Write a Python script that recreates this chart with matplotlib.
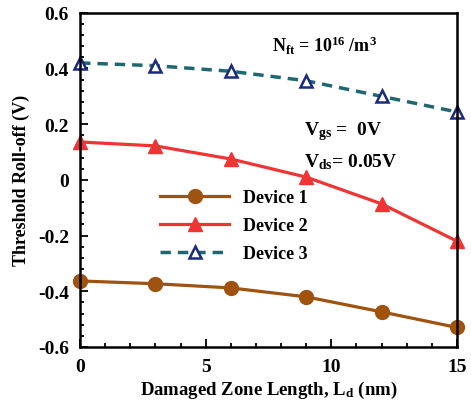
import numpy as np
import matplotlib
matplotlib.use('Agg')
import matplotlib.pyplot as plt
from matplotlib.ticker import MultipleLocator

plt.rcParams['font.family'] = 'Liberation Serif'
plt.rcParams['font.weight'] = 'bold'
plt.rcParams['mathtext.fontset'] = 'custom'
plt.rcParams['mathtext.rm'] = 'Liberation Serif:bold'
plt.rcParams['mathtext.it'] = 'Liberation Serif:bold'
plt.rcParams['mathtext.bf'] = 'Liberation Serif:bold'

# Damaged zone length (nm)
ld = [0, 3, 6, 9, 12, 15]

# Threshold roll-off (V)
device1 = [-0.363, -0.373, -0.388, -0.42, -0.474, -0.53]
device2 = [0.136, 0.122, 0.075, 0.01, -0.086, -0.22]
device3 = [0.42, 0.41, 0.39, 0.356, 0.30, 0.244]

labels = ['Device 1', 'Device 2', 'Device 3']

fig = plt.figure(figsize=(4.71, 4.06), dpi=100)
ax = fig.add_axes([0.170, 0.143, 0.800, 0.823])

ax.plot(ld, device1, color='#A0520F', lw=2.3, marker='o', ms=10,
        label=labels[0], clip_on=False)
ax.plot(ld, device2, color='#F03434', lw=2.3, marker='^', ms=10,
        label=labels[1], clip_on=False)
ax.plot(ld, device3, color='#1F6870', lw=2.5, ls=(0, (3, 2)), marker='^',
        ms=9, mfc='white', mec='#1A2A80', mew=1.8, label=labels[2],
        clip_on=False)

ax.set_xlim(0, 15)
ax.set_ylim(-0.6, 0.6)
ax.xaxis.set_major_locator(MultipleLocator(5))
ax.xaxis.set_minor_locator(MultipleLocator(1))
ax.yaxis.set_minor_locator(MultipleLocator(0.04))
ax.set_yticks([-0.6, -0.4, -0.2, 0, 0.2, 0.4, 0.6])
ax.set_yticklabels(['-0.6', '-0.4', '-0.2', '0', '0.2', '0.4', '0.6'])
ax.tick_params(which='both', direction='in', labelsize=14, width=1.3)
ax.tick_params(which='major', length=6, pad=8)
ax.tick_params(which='minor', length=3)
for s in ax.spines.values():
    s.set_linewidth(1.8)

ax.set_xlabel('Damaged Zone Length, L$_\\mathregular{d}$ (nm)', fontsize=13.5,
              fontweight='bold', labelpad=3)
ax.set_ylabel('Threshold Roll-off (V)', fontsize=13, fontweight='bold',
              labelpad=6)

ax.text(0.51, 0.885, 'N$_\\mathregular{ft}$ = 10$^\\mathregular{16}$ /m$^\\mathregular{3}$',
        transform=ax.transAxes, fontsize=13, fontweight='bold')
ax.text(0.595, 0.635, 'V$_\\mathregular{gs}$ =  0V', transform=ax.transAxes,
        fontsize=14, fontweight='bold')
ax.text(0.595, 0.54, 'V$_\\mathregular{ds}$= 0.05V', transform=ax.transAxes,
        fontsize=14, fontweight='bold')

ax.legend(loc='upper left', bbox_to_anchor=(0.17, 0.52), frameon=False,
          handlelength=3.8, labelspacing=0.6,
          prop={'weight': 'bold', 'size': 13})

fig.savefig('out.png', dpi=100)
